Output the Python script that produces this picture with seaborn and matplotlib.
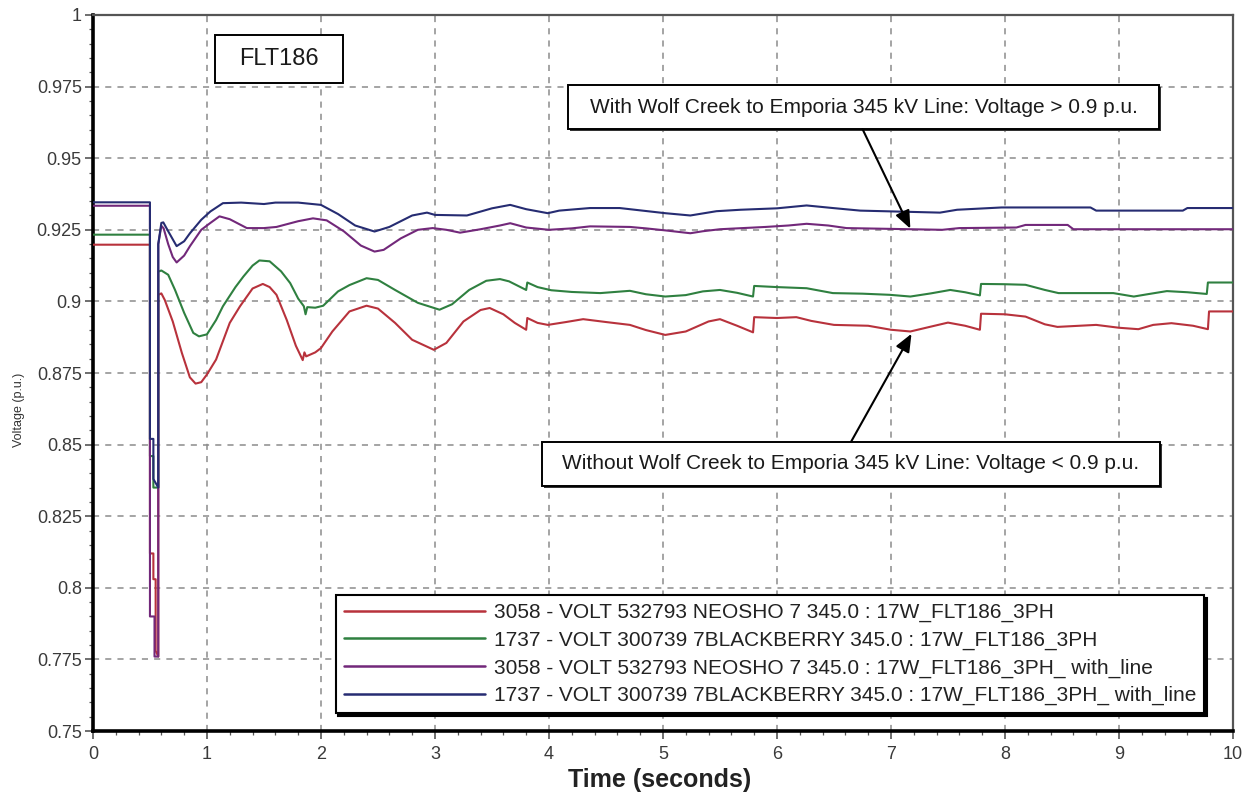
import matplotlib
matplotlib.use("Agg")
import matplotlib.pyplot as plt
import pandas as pd
import seaborn as sns
from matplotlib.patches import Rectangle
from matplotlib.ticker import AutoMinorLocator

# ---- series data: time (s) and bus voltage (p.u.) ----
series_names = [
    "3058 - VOLT 532793 NEOSHO 7 345.0 : 17W_FLT186_3PH",
    "1737 - VOLT 300739 7BLACKBERRY 345.0 : 17W_FLT186_3PH",
    "3058 - VOLT 532793 NEOSHO 7 345.0 : 17W_FLT186_3PH_ with_line",
    "1737 - VOLT 300739 7BLACKBERRY 345.0 : 17W_FLT186_3PH_ with_line",
]

neosho_t = [0.0, 0.5, 0.5, 0.53, 0.53, 0.55, 0.55, 0.573, 0.573, 0.60, 0.63, 0.70, 0.78,
            0.85, 0.90, 0.95, 1.00, 1.08, 1.20, 1.29, 1.40, 1.49, 1.55, 1.61, 1.70, 1.78,
            1.84, 1.855, 1.87, 1.95, 2.00, 2.10, 2.25, 2.40, 2.50, 2.65, 2.80, 2.99, 3.10,
            3.25, 3.40, 3.48, 3.60, 3.70, 3.80, 3.81, 3.90, 3.99, 4.15, 4.30, 4.50, 4.71,
            4.85, 5.02, 5.20, 5.40, 5.50, 5.65, 5.79, 5.80, 6.00, 6.17, 6.30, 6.50, 6.80,
            7.00, 7.17, 7.35, 7.50, 7.65, 7.78, 7.79, 8.00, 8.18, 8.35, 8.46, 8.80, 9.00,
            9.17, 9.30, 9.46, 9.65, 9.78, 9.79, 10.0]
neosho_v = [0.9198, 0.9198, 0.812, 0.812, 0.803, 0.803, 0.778, 0.776, 0.9023, 0.9028, 0.9005,
            0.8930, 0.8820, 0.8735, 0.8713, 0.8718, 0.8745, 0.8797, 0.8925, 0.8983, 0.9045,
            0.9061, 0.9050, 0.9023, 0.8935, 0.8845, 0.8795, 0.8822, 0.8808, 0.8822, 0.8837,
            0.8895, 0.8965, 0.8985, 0.8975, 0.8925, 0.8866, 0.8831, 0.8855, 0.8930, 0.8970,
            0.8977, 0.8955, 0.8925, 0.8901, 0.8942, 0.8925, 0.8918, 0.8928, 0.8938, 0.8928,
            0.8918, 0.8900, 0.8883, 0.8895, 0.8930, 0.8938, 0.8915, 0.8892, 0.8945, 0.8942,
            0.8945, 0.8932, 0.8918, 0.8915, 0.8901, 0.8895, 0.8912, 0.8926, 0.8915, 0.8901,
            0.8957, 0.8955, 0.8947, 0.8920, 0.8911, 0.8918, 0.8908, 0.8903, 0.8918, 0.8924,
            0.8915, 0.8903, 0.8965, 0.8965]

blackberry_t = [0.0, 0.5, 0.5, 0.53, 0.53, 0.573, 0.573, 0.60, 0.66, 0.72, 0.80, 0.88, 0.93,
                1.00, 1.08, 1.14, 1.25, 1.32, 1.40, 1.46, 1.55, 1.65, 1.73, 1.80, 1.85, 1.865,
                1.88, 1.95, 2.02, 2.15, 2.25, 2.40, 2.50, 2.65, 2.85, 3.04, 3.15, 3.30, 3.45,
                3.57, 3.65, 3.80, 3.81, 3.90, 4.02, 4.20, 4.45, 4.71, 4.85, 5.02, 5.20, 5.35,
                5.50, 5.65, 5.79, 5.80, 6.00, 6.26, 6.49, 6.75, 6.99, 7.17, 7.35, 7.52, 7.65,
                7.78, 7.79, 8.00, 8.18, 8.35, 8.47, 8.95, 9.13, 9.25, 9.42, 9.60, 9.77, 9.78,
                10.0]
blackberry_v = [0.9233, 0.9233, 0.846, 0.846, 0.835, 0.835, 0.9104, 0.9108, 0.9093, 0.9040,
                0.8960, 0.8890, 0.8878, 0.8885, 0.8935, 0.8983, 0.9050, 0.9087, 0.9125, 0.9143,
                0.9140, 0.9105, 0.9064, 0.9010, 0.8983, 0.8955, 0.8980, 0.8978, 0.8985, 0.9035,
                0.9057, 0.9081, 0.9075, 0.9040, 0.8995, 0.8971, 0.8990, 0.9040, 0.9072, 0.9078,
                0.9070, 0.9040, 0.9066, 0.9050, 0.9039, 0.9033, 0.9029, 0.9037, 0.9025, 0.9017,
                0.9022, 0.9035, 0.9040, 0.9030, 0.9017, 0.9054, 0.9050, 0.9046, 0.9029, 0.9027,
                0.9023, 0.9017, 0.9028, 0.9040, 0.9032, 0.9021, 0.9061, 0.9060, 0.9058, 0.9040,
                0.9029, 0.9029, 0.9017, 0.9025, 0.9036, 0.9032, 0.9026, 0.9066, 0.9066]

neosho_line_t = [0.0, 0.5, 0.5, 0.54, 0.54, 0.573, 0.573, 0.60, 0.62, 0.66, 0.70, 0.734, 0.80,
                 0.851, 0.95, 1.03, 1.11, 1.20, 1.35, 1.50, 1.61, 1.80, 1.93, 2.05, 2.20, 2.35,
                 2.47, 2.55, 2.70, 2.85, 2.98, 3.10, 3.22, 3.40, 3.57, 3.66, 3.80, 4.00, 4.20,
                 4.36, 4.71, 4.85, 5.02, 5.24, 5.35, 5.50, 5.90, 6.10, 6.26, 6.45, 6.61, 7.17,
                 7.45, 7.60, 8.10, 8.18, 8.55, 8.60, 10.0]
neosho_line_v = [0.9334, 0.9334, 0.790, 0.790, 0.776, 0.776, 0.9200, 0.9264, 0.9255, 0.9200,
                 0.9155, 0.9136, 0.9160, 0.9193, 0.9250, 0.9274, 0.9297, 0.9287, 0.9256, 0.9256,
                 0.9260, 0.9280, 0.9290, 0.9283, 0.9245, 0.9195, 0.9174, 0.9180, 0.9220, 0.9250,
                 0.9256, 0.9250, 0.9240, 0.9252, 0.9265, 0.9273, 0.9258, 0.9250, 0.9255, 0.9262,
                 0.9260, 0.9255, 0.9248, 0.9238, 0.9245, 0.9252, 0.9260, 0.9265, 0.9271, 0.9265,
                 0.9256, 0.9252, 0.9250, 0.9256, 0.9258, 0.9267, 0.9267, 0.9252, 0.9252]

blackberry_line_t = [0.0, 0.5, 0.5, 0.53, 0.53, 0.573, 0.573, 0.60, 0.617, 0.66, 0.734, 0.80,
                     0.851, 0.95, 1.03, 1.14, 1.30, 1.50, 1.60, 1.80, 2.00, 2.15, 2.30, 2.47,
                     2.60, 2.80, 2.93, 3.00, 3.28, 3.50, 3.66, 3.80, 3.99, 4.09, 4.36, 4.62,
                     5.02, 5.24, 5.47, 5.68, 6.00, 6.26, 6.49, 6.73, 7.43, 7.58, 7.97, 8.75,
                     8.80, 9.56, 9.60, 10.0]
blackberry_line_v = [0.9346, 0.9346, 0.852, 0.852, 0.838, 0.835, 0.9200, 0.9274, 0.9276,
                     0.9245, 0.9193, 0.9210, 0.9238, 0.9285, 0.9314, 0.9343, 0.9345, 0.9340,
                     0.9345, 0.9345, 0.9337, 0.9305, 0.9265, 0.9244, 0.9260, 0.9300, 0.9310,
                     0.9302, 0.9300, 0.9325, 0.9337, 0.9322, 0.9308, 0.9317, 0.9326, 0.9326,
                     0.9308, 0.9300, 0.9315, 0.9320, 0.9325, 0.9335, 0.9326, 0.9317, 0.9310,
                     0.9320, 0.9328, 0.9328, 0.9317, 0.9317, 0.9326, 0.9326]

line_colors = ["#b8323c", "#2f8040", "#72287a", "#262c72"]

x_ticks = [0, 1, 2, 3, 4, 5, 6, 7, 8, 9, 10]
x_tick_labels = ["0", "1", "2", "3", "4", "5", "6", "7", "8", "9", "10"]
y_ticks = [0.75, 0.775, 0.8, 0.825, 0.85, 0.875, 0.9, 0.925, 0.95, 0.975, 1.0]
y_tick_labels = ["0.75", "0.775", "0.8", "0.825", "0.85", "0.875", "0.9",
                 "0.925", "0.95", "0.975", "1"]

case_label = "FLT186"
note_with = "With Wolf Creek to Emporia 345 kV Line: Voltage > 0.9 p.u."
note_without = "Without Wolf Creek to Emporia 345 kV Line: Voltage < 0.9 p.u."
note_with_target = (7.17, 0.9254)
note_without_target = (7.18, 0.8887)

# ---- long-form table ----
frames = []
for name, t, v in zip(series_names,
                      [neosho_t, blackberry_t, neosho_line_t, blackberry_line_t],
                      [neosho_v, blackberry_v, neosho_line_v, blackberry_line_v]):
    frames.append(pd.DataFrame({"Time": t, "Voltage": v, "Series": name}))
df = pd.concat(frames, ignore_index=True)

sns.set_theme(style="white")
plt.rcParams["font.family"] = ["Liberation Sans", "DejaVu Sans"]

fig = plt.figure(figsize=(12.51, 8.02), dpi=100)
fig.patch.set_facecolor("white")
ax = fig.add_axes([0.0743, 0.0885, 0.9113, 0.8928])

sns.lineplot(data=df, x="Time", y="Voltage", hue="Series", hue_order=series_names,
             palette=dict(zip(series_names, line_colors)), estimator=None, sort=False,
             linewidth=1.5, ax=ax, zorder=3)

ax.set_xlim(0, 10)
ax.set_ylim(0.75, 1.0)
ax.set_xticks(x_ticks)
ax.set_xticklabels(x_tick_labels)
ax.set_yticks(y_ticks)
ax.set_yticklabels(y_tick_labels)
ax.xaxis.set_minor_locator(AutoMinorLocator(5))
ax.yaxis.set_minor_locator(AutoMinorLocator(5))

ax.grid(True, which="major", linestyle=(0, (4, 4)), color="#8c8c8c", linewidth=1.1, zorder=1)
ax.tick_params(axis="both", which="both", bottom=True, left=True, direction="out",
               color="#555555")
ax.tick_params(axis="both", which="major", length=6, width=1.2, labelsize=13,
               labelcolor="#3a3a3a")
ax.tick_params(axis="x", which="major", pad=5)
ax.tick_params(axis="y", which="major", pad=2)
ax.tick_params(axis="both", which="minor", length=3, width=0.9)

for side in ["left", "bottom"]:
    ax.spines[side].set_color("black")
    ax.spines[side].set_linewidth(2.6)
for side in ["top", "right"]:
    ax.spines[side].set_color("#555555")
    ax.spines[side].set_linewidth(1.6)

ax.set_xlabel("Time (seconds)", fontsize=18, fontweight="bold", color="#222222")
ax.xaxis.set_label_coords(0.497, -0.052)
ax.set_ylabel("Voltage (p.u.)", fontsize=9, color="#333333")
ax.yaxis.set_label_coords(-0.060, 0.448)

# legend with solid drop shadow
old = ax.get_legend()
handles = old.legend_handles
labels = [t.get_text() for t in old.get_texts()]
leg = ax.legend(handles, labels, loc="lower left", bbox_to_anchor=(0.2129, 0.025),
                fontsize=15, handlelength=6.8, handletextpad=0.4, borderpad=0.38,
                labelspacing=0.4, frameon=True, fancybox=False, edgecolor="black",
                framealpha=1, borderaxespad=0,
                shadow={"color": "black", "alpha": 1})
leg.get_frame().set_linewidth(1.5)
for h in leg.get_lines():
    h.set_linewidth(1.8)
leg.set_zorder(10)
for txt in leg.get_texts():
    txt.set_color("#222222")

# annotation boxes
def boxed_text(x0, y0, w, h, text, size, shadow=False):
    if shadow:
        ax.add_patch(Rectangle((x0 + 0.0018, y0 - 0.003), w, h, transform=ax.transAxes,
                               facecolor="#333333", edgecolor="none", zorder=6))
    ax.add_patch(Rectangle((x0, y0), w, h, transform=ax.transAxes, facecolor="white",
                           edgecolor="black", linewidth=1.4, zorder=7))
    ax.text(x0 + w / 2, y0 + h / 2, text, transform=ax.transAxes, ha="center",
            va="center", fontsize=size, color="#1a1a1a", zorder=8)

boxed_text(0.107, 0.905, 0.112, 0.067, case_label, 17)
boxed_text(0.4167, 0.8408, 0.5183, 0.0614, note_with, 15, shadow=True)
boxed_text(0.3935, 0.3422, 0.5425, 0.0618, note_without, 15, shadow=True)

arrow_style = dict(arrowstyle="-|>,head_length=0.6,head_width=0.25", color="black",
                   lw=1.5, mutation_scale=18, shrinkA=0, shrinkB=0)
ax.annotate("", xy=note_with_target, xycoords="data", xytext=(0.675, 0.8408),
            textcoords="axes fraction", arrowprops=arrow_style, zorder=9)
ax.annotate("", xy=note_without_target, xycoords="data", xytext=(0.665, 0.4040),
            textcoords="axes fraction", arrowprops=arrow_style, zorder=9)

fig.savefig("out.png", dpi=100, facecolor="white")
